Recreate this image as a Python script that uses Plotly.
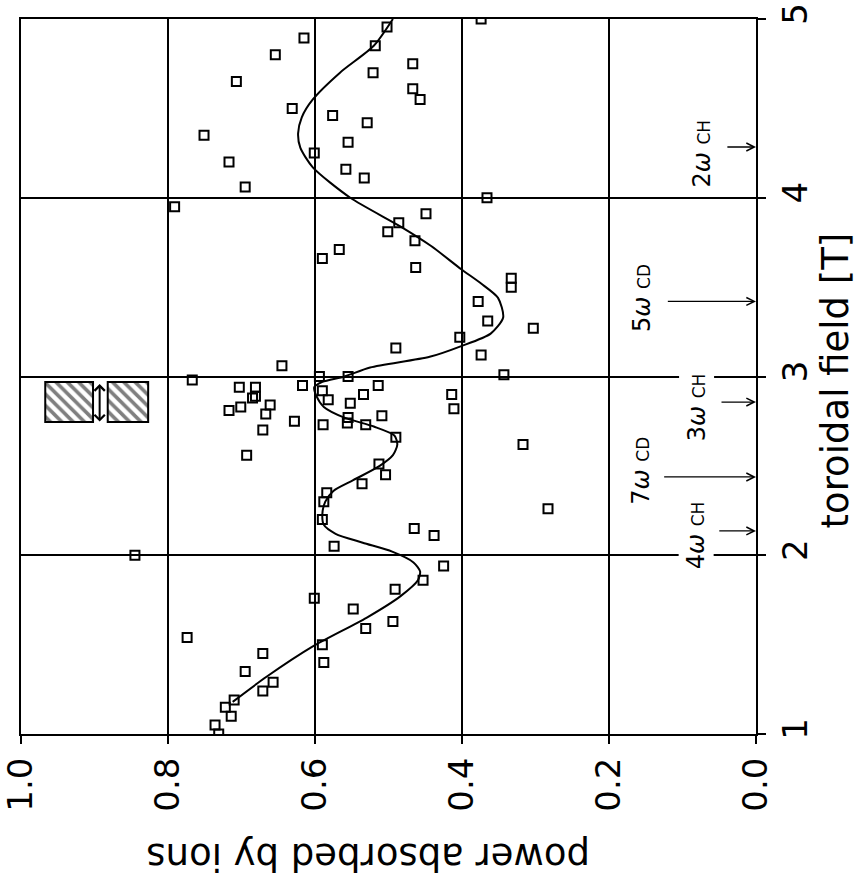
import plotly.graph_objects as go

# ---- measured data (toroidal field [T], power absorbed by ions) ----
field_pts = [4.955, 4.894, 4.80, 4.85, 4.75, 4.65, 4.70, 4.61, 4.55, 4.50, 4.46, 4.42, 4.35, 4.31,
             4.25, 4.20, 4.16, 4.11, 4.06, 3.95, 3.91, 3.86, 3.81, 3.76, 3.71, 3.66, 3.61, 3.16,
             3.06, 2.98, 3.00, 3.00, 2.95, 2.94, 2.94, 2.92, 2.95, 2.89, 2.88, 2.87, 2.90, 2.84,
             2.85, 2.83, 2.81, 2.79, 2.78, 2.77, 2.75, 2.73, 2.74, 2.73, 2.70, 2.66,
             5.00, 4.00, 3.55, 3.50, 3.42, 3.31, 3.27, 3.22, 3.12, 3.01, 2.90, 2.82, 2.62,
             2.56, 2.51, 2.45, 2.40, 2.35, 2.30, 2.20, 2.15, 2.05, 2.00, 1.86, 1.81, 1.76, 1.70,
             1.63, 1.59, 1.54, 1.50, 1.45, 1.40, 1.35, 1.29, 1.24, 1.19, 1.15, 1.10, 1.05, 1.00,
             2.26, 2.11, 1.94]
power_pts = [0.502, 0.615, 0.654, 0.518, 0.467, 0.707, 0.521, 0.467, 0.457, 0.631, 0.576, 0.529, 0.751, 0.555,
             0.601, 0.717, 0.558, 0.533, 0.695, 0.791, 0.449, 0.486, 0.501, 0.464, 0.567, 0.590, 0.463, 0.490,
             0.645, 0.767, 0.594, 0.555, 0.617, 0.703, 0.681, 0.590, 0.514, 0.681, 0.685, 0.582, 0.534, 0.661,
             0.552, 0.701, 0.717, 0.667, 0.509, 0.555, 0.628, 0.589, 0.556, 0.531, 0.671, 0.490,
             0.374, 0.366, 0.333, 0.333, 0.378, 0.365, 0.303, 0.403, 0.374, 0.343, 0.414, 0.411, 0.317,
             0.693, 0.513, 0.504, 0.536, 0.584, 0.588, 0.590, 0.465, 0.574, 0.845, 0.453, 0.491, 0.601, 0.548,
             0.494, 0.531, 0.774, 0.590, 0.671, 0.588, 0.695, 0.657, 0.671, 0.710, 0.722, 0.714, 0.736, 0.731,
             0.283, 0.438, 0.425]

curve_field = [1.18, 1.32, 1.49, 1.65, 1.77, 1.86, 1.91, 1.96, 2.02, 2.07, 2.12, 2.17, 2.23, 2.30,
               2.36, 2.42, 2.50, 2.56, 2.62, 2.67, 2.72, 2.77, 2.83, 2.89, 2.94, 2.97, 3.00, 3.05,
               3.11, 3.17, 3.24, 3.33, 3.44, 3.52, 3.60, 3.73, 3.84, 4.00, 4.17, 4.28, 4.36, 4.45,
               4.55, 4.70, 4.85, 5.00]
curve_power = [0.712, 0.666, 0.603, 0.530, 0.484, 0.460, 0.457, 0.466, 0.495, 0.535, 0.572, 0.588, 0.590, 0.586,
               0.575, 0.548, 0.512, 0.494, 0.488, 0.492, 0.520, 0.560, 0.588, 0.598, 0.601, 0.590, 0.560, 0.525,
               0.444, 0.401, 0.361, 0.344, 0.351, 0.374, 0.401, 0.442, 0.484, 0.552, 0.603, 0.620, 0.623, 0.618,
               0.603, 0.566, 0.520, 0.494]

power_ticks = [0.0, 0.2, 0.4, 0.6, 0.8, 1.0]
power_ticktext = ["0.0", "0.2", "0.4", "0.6", "0.8", "1.0"]
field_ticks = [1, 2, 3, 4, 5]

# resonance markers
res_labels = ["2", "5", "3", "7", "4"]
res_kind = ["CH", "CD", "CH", "CD", "CH"]
res_field = [4.284, 3.42, 2.857, 2.438, 2.136]
res_arrow_start = [0.041, 0.122, 0.049, 0.127, 0.052]
res_label_power = [0.074, 0.155, 0.081, 0.156, 0.082]
res_label_field = [4.245, 3.44, 2.83, 2.475, 2.11]

# hatched error band indicator
hatch_field = [2.857, 2.857]
hatch_start = [0.827, 0.902]
hatch_end = [0.882, 0.967]
hatch_height = 0.224
hatch_arrow_power = 0.893
hatch_arrow_field = [2.748, 2.966]

FONT = "DejaVu Sans"

fig = go.Figure()

fig.add_trace(go.Bar(
    orientation="h", y=hatch_field,
    x=[e - s for s, e in zip(hatch_start, hatch_end)], base=hatch_start,
    width=hatch_height,
    marker=dict(color="white", line=dict(color="black", width=2),
                pattern=dict(shape="\\", fgcolor="black", bgcolor="white",
                             size=8, solidity=0.45, fillmode="overlay")),
    showlegend=False, hoverinfo="skip"))

fig.add_trace(go.Scatter(
    x=curve_power, y=curve_field, mode="lines",
    line=dict(color="black", width=2, shape="spline", smoothing=0.7),
    showlegend=False))

fig.add_trace(go.Scatter(
    x=power_pts, y=field_pts, mode="markers",
    marker=dict(symbol="square-open", size=9, color="black", line=dict(width=2, color="black")),
    showlegend=False))

annotations = []
for lab, kind, f, a0, lp, lf in zip(res_labels, res_kind, res_field, res_arrow_start,
                                     res_label_power, res_label_field):
    annotations.append(dict(x=0.0, y=f, ax=a0, ay=f, xref="x", yref="y", axref="x", ayref="y",
                            text="", showarrow=True, arrowhead=5, arrowsize=1.2, arrowwidth=1.3,
                            arrowcolor="black", standoff=0))
    annotations.append(dict(x=lp, y=lf, xref="x", yref="y", showarrow=False, textangle=-90,
                            text=f"{lab}<i>ω</i> <span style='font-size:17px'>{kind}</span>",
                            font=dict(family=FONT, size=24, color="black"),
                            bgcolor="white", borderpad=3))

annotations.append(dict(x=hatch_arrow_power, y=hatch_arrow_field[0], ax=hatch_arrow_power,
                        ay=hatch_arrow_field[1], xref="x", yref="y", axref="x", ayref="y",
                        text="", showarrow=True, arrowhead=4, arrowside="end+start",
                        arrowsize=1, arrowwidth=2, arrowcolor="black", standoff=0, startstandoff=0))

annotations.append(dict(x=0.4714, y=-0.171, xref="paper", yref="paper", showarrow=False,
                        text="power absorbed by ions", textangle=180,
                        font=dict(family=FONT, size=37, color="black"),
                        xanchor="center", yanchor="middle"))
annotations.append(dict(x=1.108, y=0.495, xref="paper", yref="paper", showarrow=False,
                        text="toroidal field [T]", textangle=-90,
                        font=dict(family=FONT, size=37, color="black"),
                        xanchor="center", yanchor="middle"))

fig.update_layout(
    width=862, height=880,
    margin=dict(l=21, r=106, t=19, b=146, autoexpand=False),
    paper_bgcolor="white", plot_bgcolor="white",
    font=dict(family=FONT, color="black"),
    annotations=annotations,
    barmode="overlay",
    xaxis=dict(range=[1, 0], tickvals=power_ticks, ticktext=power_ticktext, tickangle=-90,
               ticks="outside", ticklen=8, tickwidth=1.5, tickcolor="black",
               showline=True, linecolor="black", linewidth=2, mirror=True, automargin=False,
               showgrid=True, gridcolor="black", gridwidth=1.5, zeroline=False,
               tickfont=dict(family=FONT, size=34, color="black")),
    yaxis=dict(range=[1, 5], tickvals=field_ticks, side="right", tickangle=-90,
               ticks="outside", ticklen=8, tickwidth=1.5, tickcolor="black",
               showline=True, linecolor="black", linewidth=2, mirror=True, automargin=False,
               showgrid=True, gridcolor="black", gridwidth=1.5, zeroline=False,
               tickfont=dict(family=FONT, size=34, color="black")),
)

fig.write_html("out.html")
